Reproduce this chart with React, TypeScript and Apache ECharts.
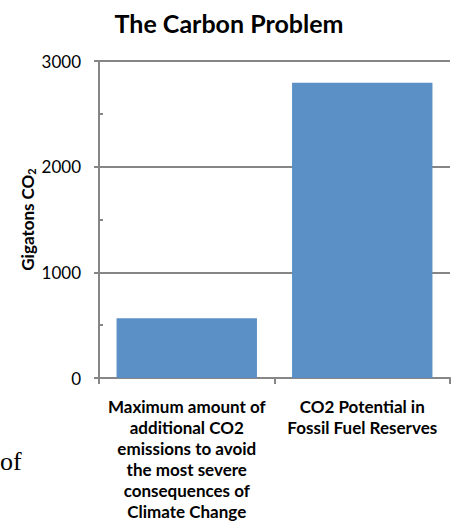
import React, { useEffect, useRef } from "react";
import * as echarts from "echarts";

const categories: string[] = [
  "Maximum amount of\nadditional CO2\nemissions to avoid\nthe most severe\nconsequences of\nClimate Change",
  "CO2 Potential in\nFossil Fuel Reserves",
];
const values: number[] = [565, 2795];
const yTicks = { min: 0, max: 3000, interval: 1000 };

const FONT = "Lato, 'Open Sans', sans-serif";
const AXIS = "#868686";

export default function App() {
  const ref = useRef<HTMLDivElement>(null);
  useEffect(() => {
    if (!ref.current) return;
    const chart = echarts.init(ref.current, null, { renderer: "svg" });
    chart.setOption({
      animation: false,
      title: {
        text: "The Carbon Problem",
        left: 224,
        textAlign: "center",
        top: 5,
        textStyle: { fontFamily: FONT, fontWeight: "bold", fontSize: 25, color: "#000" },
      },
      grid: { left: 99, right: 8, top: 61, bottom: 153, containLabel: false },
      xAxis: {
        type: "category",
        data: categories,
        axisLine: { lineStyle: { color: AXIS, width: 2 } },
        axisTick: { show: true, length: 6, alignWithLabel: false, lineStyle: { color: AXIS, width: 2 } },
        axisLabel: {
          interval: 0,
          margin: 18,
          fontFamily: FONT,
          fontWeight: "bold",
          fontSize: 17,
          lineHeight: 21,
          color: "#000",
          align: "center",
        },
      },
      yAxis: [
        {
          type: "value",
          min: yTicks.min,
          max: yTicks.max,
          interval: yTicks.interval,
          name: "{a|Gigatons CO}{b|2}",
          nameLocation: "middle",
          nameRotate: 90,
          nameGap: 62,
          nameMoveOverlap: false,
          nameTextStyle: {
            rich: {
              a: { fontFamily: FONT, fontWeight: "bold", fontSize: 17, color: "#000" },
              b: { fontFamily: FONT, fontWeight: "bold", fontSize: 11, color: "#000", verticalAlign: "bottom", padding: [9, 0, 0, 0] },
            },
          },
          axisLine: { show: true, lineStyle: { color: AXIS, width: 2 } },
          axisTick: { show: true, length: 5, lineStyle: { color: AXIS, width: 2 } },
          axisLabel: { margin: 18, fontFamily: FONT, fontSize: 17, color: "#000", formatter: (v: number) => String(v) },
          splitLine: { show: true, lineStyle: { color: AXIS, width: 2 } },
        },
        {
          type: "value",
          position: "left",
          min: 0,
          max: 3000,
          interval: 500,
          axisLine: { show: false },
          axisTick: { show: true, inside: true, length: 4, lineStyle: { color: AXIS, width: 2 } },
          axisLabel: { show: false },
          splitLine: { show: false },
        },
      ],
      series: [
        {
          type: "bar",
          data: values,
          barWidth: "80%",
          itemStyle: { color: "#5B90C6" },
        },
      ],
      graphic: [
        {
          type: "text",
          left: 0,
          top: 448,
          style: { text: "of", font: "26px 'Liberation Serif', serif", fill: "#000" },
        },
      ],
    });
    return () => chart.dispose();
  }, []);
  return <div ref={ref} style={{ width: 458, height: 531, position: "absolute", left: 0, top: 0 }} />;
}
